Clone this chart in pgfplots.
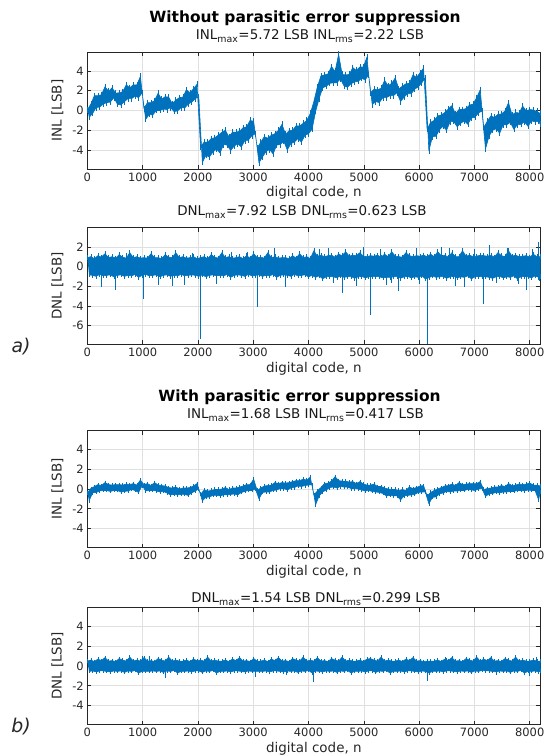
\documentclass[border=0pt]{standalone}
\usepackage{fontspec}
\setmainfont{DejaVu Sans}
\usepackage{pgfplots}
\usepackage{pgfplotstable}
\pgfplotsset{compat=1.18}
\definecolor{mblue}{HTML}{0072BD}
\definecolor{axgray}{HTML}{262626}

% outline of each noisy band: upper edge left to right, then lower edge right to left
\pgfplotstableread{
x ia da ib db
0 0.05 0.9 -0.4 0.5
64 0.65 1.0 0.05 0.6
128 1.5 0.8 0.25 0.45
192 1.5 1.1 0.45 0.7
256 1.6 0.95 0.35 0.55
320 2.4 1.3 0.65 0.85
384 1.95 0.9 0.45 0.5
448 2.3 1.0 0.4 0.55
512 1.75 0.85 0.45 0.45
576 1.8 1.2 0.45 0.75
640 1.9 0.95 0.4 0.6
704 2.6 0.85 0.5 0.5
768 2.3 1.4 0.45 0.9
832 2.6 0.9 0.55 0.5
896 2.6 1.0 0.4 0.6
960 3.45 0.85 0.9 0.5
1024 0.2 0.9 0.45 0.85
1088 0.8 0.85 0.55 0.5
1152 0.8 1.3 0.35 0.55
1216 1.0 0.9 0.65 0.45
1280 1.75 0.9 0.4 0.75
1344 1.15 0.8 0.35 0.6
1408 1.4 1.2 0.3 0.5
1472 1.35 0.95 0.15 0.9
1536 0.7 0.9 0.1 0.5
1600 1.05 1.4 0.2 0.6
1664 1.3 0.9 0.0 0.5
1728 1.35 1.0 0.1 0.5
1792 2.1 0.85 0.1 0.6
1856 1.8 0.9 0.15 0.45
1920 2.2 1.0 0.3 0.7
1984 2.65 0.8 0.55 0.55
2048 -3.7 0.9 -0.55 0.6
2112 -3.2 1.0 -0.1 0.5
2176 -3.2 0.8 -0.2 0.9
2240 -2.85 1.2 -0.15 0.5
2304 -2.75 0.95 -0.05 0.6
2368 -2.5 0.85 -0.05 0.5
2432 -2.2 1.4 0.0 0.5
2496 -2.0 0.9 0.15 0.6
2560 -2.65 1.0 -0.05 0.45
2624 -2.2 0.85 0.1 0.7
2688 -2.2 0.9 0.1 0.55
2752 -2.1 1.0 0.2 0.85
2816 -1.75 0.8 0.3 0.5
2880 -1.65 1.1 0.45 0.55
2944 -1.0 0.85 0.45 0.45
3008 -1.1 1.3 1.0 0.75
3072 -3.8 0.9 -0.15 0.5
3136 -3.2 0.95 0.1 0.5
3200 -2.65 0.85 0.3 0.6
3264 -2.8 1.4 0.35 0.45
3328 -2.5 0.9 0.4 0.7
3392 -2.35 1.0 0.65 0.55
3456 -2.0 0.85 0.55 0.85
3520 -1.4 0.9 0.65 0.5
3584 -2.4 0.9 0.6 0.55
3648 -2.05 0.8 0.65 0.45
3712 -2.0 1.1 0.75 0.75
3776 -1.55 0.85 0.85 0.6
3840 -1.55 1.3 0.85 0.5
3904 -1.3 0.9 1.0 0.9
3968 -1.0 1.0 0.9 0.5
4032 -0.3 0.8 1.2 0.6
4096 0.9 1.6 -0.6 0.5
4160 2.4 1.05 -0.2 0.85
4224 3.5 1.15 0.15 0.5
4288 3.6 1.0 0.55 0.55
4352 3.7 1.1 0.6 0.45
4416 4.45 1.15 0.8 0.75
4480 3.95 0.95 1.25 0.6
4544 5.7 1.25 0.85 0.5
4608 3.65 1.1 0.8 0.9
4672 3.6 1.5 0.8 0.5
4736 3.65 1.05 0.7 0.6
4800 4.35 1.15 0.75 0.5
4864 4.05 1.1 0.55 0.5
4928 4.4 1.4 0.75 0.6
4992 4.4 1.05 0.5 0.45
5056 5.4 1.0 0.4 0.7
5120 1.8 1.1 0.4 0.75
5184 2.15 1.05 0.5 0.6
5248 2.1 1.15 0.25 0.5
5312 2.25 0.95 0.25 0.9
5376 3.05 1.25 0.1 0.5
5440 2.5 1.0 0.0 0.6
5504 2.75 1.5 -0.05 0.5
5568 3.3 1.05 -0.05 0.5
5632 2.2 1.0 -0.15 0.6
5696 2.45 0.95 -0.05 0.45
5760 2.7 1.4 -0.15 0.7
5824 2.75 1.1 0.2 0.55
5888 3.6 1.0 0.05 0.85
5952 3.35 1.1 0.15 0.5
6016 3.8 1.05 0.3 0.55
6080 4.3 1.15 0.35 0.45
6144 -1.9 1.0 -0.7 0.5
6208 -1.2 1.25 -0.35 0.5
6272 -1.0 1.0 -0.15 0.5
6336 -0.55 1.5 0.0 0.6
6400 -0.45 1.1 0.15 0.45
6464 -0.2 1.15 0.3 0.7
6528 0.15 0.95 0.35 0.55
6592 0.5 1.4 0.5 0.85
6656 -0.35 1.0 0.35 0.5
6720 0.1 1.0 0.65 0.55
6784 0.1 1.6 0.45 0.45
6848 0.2 1.05 0.5 0.75
6912 0.55 1.15 0.55 0.6
6976 0.65 1.0 0.55 0.5
7040 1.3 1.05 0.55 0.9
7104 2.1 1.15 0.75 0.5
7168 -1.7 1.1 -0.05 0.7
7232 -1.1 1.05 0.05 0.55
7296 -0.55 1.15 0.1 0.85
7360 -0.7 0.95 0.2 0.5
7424 -0.4 1.4 0.2 0.55
7488 -0.35 1.1 0.35 0.45
7552 -0.05 1.0 0.25 0.75
7616 0.8 1.6 0.55 0.6
7680 -0.45 1.05 0.35 0.5
7744 -0.2 1.15 0.4 0.9
7808 -0.25 1.0 0.5 0.5
7872 0.45 1.05 0.45 0.6
7936 -0.05 1.1 0.5 0.5
8000 0.1 0.95 0.6 0.5
8064 0.05 1.25 0.4 0.6
8128 -0.1 1.0 0.4 0.5
8191 -0.3 1.0 0.3 0.5
8191 -1.4 -1.0 -0.3 -0.5
8160 -1.1 -1.1 -1.1 -0.6
8096 -1.15 -0.95 -0.15 -0.5
8032 -1.05 -1.15 -0.15 -0.55
7968 -1.6 -1.05 -0.1 -0.55
7904 -1.15 -1.0 -0.2 -0.7
7840 -1.4 -1.05 -0.15 -0.45
7776 -1.45 -1.25 -0.15 -0.55
7712 -1.9 -0.95 -0.25 -0.5
7648 -1.2 -1.1 -0.25 -0.65
7584 -1.45 -1.05 -0.3 -0.5
7520 -1.45 -1.15 -0.3 -0.55
7456 -2.3 -1.0 -0.4 -0.5
7392 -1.85 -1.05 -0.35 -0.6
7328 -2.0 -1.2 -0.45 -0.55
7264 -2.6 -1.1 -0.5 -0.5
7200 -3.9 -1.05 -0.75 -0.5
7136 -0.05 -1.05 0.05 -0.45
7072 -0.25 -1.0 0.0 -0.55
7008 -0.7 -1.05 -0.15 -0.5
6944 -0.75 -1.25 -0.1 -0.65
6880 -1.4 -0.95 -0.05 -0.5
6816 -1.05 -1.1 -0.15 -0.55
6752 -1.3 -1.05 -0.15 -0.5
6688 -1.65 -1.15 -0.2 -0.6
6624 -1.1 -1.0 -0.2 -0.55
6560 -1.15 -1.05 -0.3 -0.5
6496 -2.0 -1.2 -0.25 -0.5
6432 -1.6 -1.0 -0.4 -0.6
6368 -1.95 -1.05 -0.5 -0.5
6304 -2.6 -1.1 -0.8 -0.55
6240 -2.65 -0.95 -0.85 -0.55
6176 -4.1 -1.15 -1.5 -0.7
6112 3.3 -1.25 -0.3 -0.55
6048 2.8 -0.95 -0.3 -0.5
5984 2.4 -1.1 -0.35 -0.6
5920 2.15 -1.05 -0.55 -0.55
5856 1.7 -1.15 -0.6 -0.5
5792 1.7 -1.0 -0.65 -0.5
5728 1.35 -1.05 -0.7 -0.6
5664 0.9 -1.2 -1.1 -0.5
5600 1.8 -1.0 -0.7 -0.55
5536 1.5 -1.05 -0.7 -0.55
5472 1.5 -1.1 -0.65 -0.7
5408 1.3 -1.1 -0.7 -0.45
5344 1.3 -1.15 -0.45 -0.55
5280 0.8 -1.05 -0.35 -0.5
5216 0.9 -1.0 -0.3 -0.65
5152 0.6 -1.05 -0.25 -0.5
5088 3.6 -1.05 -0.15 -0.5
5024 3.1 -1.15 -0.2 -0.6
4960 3.25 -1.0 -0.1 -0.5
4896 2.95 -1.05 0.0 -0.55
4832 2.9 -1.2 0.05 -0.55
4768 2.7 -1.0 0.05 -0.7
4704 2.35 -1.05 0.2 -0.45
4640 2.5 -1.1 0.2 -0.55
4576 3.2 -0.95 0.25 -0.5
4512 2.8 -1.15 0.1 -0.65
4448 2.8 -1.05 0.2 -0.5
4384 2.75 -1.0 0.15 -0.55
4320 2.45 -1.05 -0.1 -0.5
4256 2.3 -1.25 -0.3 -0.6
4192 1.2 -0.95 -0.7 -0.55
4128 -0.1 -1.1 -1.6 -0.5
4064 -1.9 -0.9 0.45 -0.7
4000 -2.35 -1.05 0.4 -0.45
3936 -2.5 -0.85 0.35 -0.55
3872 -3.2 -0.9 0.25 -0.5
3808 -2.85 -0.95 0.3 -0.65
3744 -3.2 -0.8 0.15 -0.5
3680 -3.35 -1.0 0.1 -0.55
3616 -4.0 -0.9 -0.1 -0.5
3552 -3.1 -0.85 0.05 -0.6
3488 -3.45 -0.9 0.05 -0.55
3424 -3.5 -1.1 -0.1 -0.5
3360 -4.4 -0.8 -0.15 -0.5
3296 -3.95 -0.95 -0.3 -0.6
3232 -4.15 -0.9 -0.3 -0.5
3168 -4.7 -1.0 -0.35 -0.55
3104 -5.3 -0.85 -1.0 -0.55
3040 -2.35 -0.9 0.0 -0.55
2976 -2.55 -0.95 -0.15 -0.55
2912 -3.0 -0.8 -0.15 -0.5
2848 -3.05 -1.0 -0.25 -0.6
2784 -3.7 -0.9 -0.35 -0.55
2720 -3.35 -0.85 -0.6 -0.5
2656 -3.6 -0.9 -0.5 -0.5
2592 -4.05 -1.1 -0.55 -0.6
2528 -3.5 -0.8 -0.6 -0.5
2464 -3.45 -0.95 -0.6 -0.55
2400 -4.3 -0.9 -0.7 -0.55
2336 -3.9 -0.95 -0.65 -0.7
2272 -4.2 -0.85 -0.65 -0.45
2208 -4.7 -0.9 -0.8 -0.55
2144 -4.55 -1.05 -0.85 -0.5
2080 -5.25 -0.85 -1.2 -0.65
2016 1.4 -1.0 0.0 -0.5
1952 1.2 -0.9 -0.2 -0.5
1888 0.85 -0.85 -0.4 -0.6
1824 0.65 -0.9 -0.65 -0.5
1760 0.25 -0.95 -0.55 -0.55
1696 0.3 -0.8 -0.55 -0.55
1632 -0.05 -0.95 -0.6 -0.7
1568 -0.1 -0.9 -0.55 -0.45
1504 0.3 -1.0 -0.6 -0.55
1440 0.1 -0.85 -0.4 -0.5
1376 0.15 -0.9 -0.25 -0.65
1312 0.0 -1.05 -0.3 -0.5
1248 0.0 -0.85 -0.2 -0.55
1184 -0.45 -0.9 -0.15 -0.5
1120 -0.4 -0.95 -0.15 -0.55
1056 -0.9 -0.8 -0.2 -0.55
992 1.8 -0.9 0.35 -0.55
928 1.3 -1.1 -0.35 -0.7
864 1.45 -0.8 -0.15 -0.45
800 1.2 -0.95 -0.05 -0.55
736 1.2 -0.9 -0.2 -0.5
672 0.9 -1.0 -0.25 -0.65
608 0.55 -0.85 -0.3 -0.5
544 0.65 -0.9 -0.15 -0.55
480 1.3 -1.05 -0.15 -0.5
416 0.85 -0.85 -0.25 -0.6
352 0.8 -0.9 -0.15 -0.55
288 0.65 -0.95 -0.15 -0.5
224 0.35 -0.8 -0.2 -0.5
160 0.3 -1.0 -0.35 -0.6
96 -0.3 -0.9 -0.4 -0.5
32 -0.7 -0.85 -1.2 -0.55
}\band

% isolated DNL spikes
\pgfplotstableread{
x y
256 -2.1
512 -2.35
700 1.4
1024 -3.3
1280 -1.85
1536 -2.0
1760 -1.9
1900 1.35
2048 -7.4
2336 -1.8
2600 1.5
2900 1.45
3072 -4.1
3392 1.9
3584 -2.1
4200 1.8
4352 1.9
4450 -1.7
4608 -2.7
4864 -2.0
4992 2.0
5120 -4.9
5300 1.8
5408 -1.9
5500 -1.7
5632 -2.5
5952 1.9
6000 -1.8
6144 -7.92
6400 2.0
6550 1.9
6656 -2.0
6816 -2.1
7000 1.8
7168 -3.8
7264 2.2
7400 -1.7
7600 1.9
7800 -1.8
7936 -2.35
8050 1.8
8150 2.45
8169 -1.5
}\spka

\pgfplotstableread{
x y
992 1.0
1120 1.05
1408 -1.2
2500 0.85
3040 -1.1
3600 -0.9
4096 -1.6
5200 0.85
6144 -1.5
6500 0.85
7400 -0.9
8000 -1.0
8128 0.95
}\spkb

\pgfplotsset{base/.style={
  anchor=north west, scale only axis, width=453bp, height=117bp,
  xmin=0, xmax=8191, xtick={0,1000,...,8000},
  grid=major, major grid style={draw=black!12, line width=0.6bp},
  axis line style={draw=axgray, line width=0.6bp},
  every tick/.style={draw=axgray, line width=0.6bp},
  tick align=inside, major tick length=4bp,
  tick label style={font=\fontsize{11.5}{12}\selectfont, text=axgray},
  label style={font=\fontsize{13.5}{14}\selectfont, text=axgray},
  xlabel={digital code, n},
  xlabel style={at={(axis description cs:0.5,-0.205)}, anchor=center},
  ylabel style={at={(axis description cs:-0.066,0.5)}, anchor=center},
  /pgf/number format/assume math mode=true,
  /pgf/number format/1000 sep={},
  scaled ticks=false,
}}
\tikzset{bandst/.style={fill=mblue, draw=mblue, line width=0.6bp, line join=round}}
\pgfplotsset{hairs/.style={only marks, mark=|, mark size=#1, mark options={draw=mblue, line width=0.6bp}}}

\begin{document}
\begin{tikzpicture}
\path[use as bounding box] (0,0) rectangle (548bp,-756bp);

\begin{axis}[base, at={(87.3bp,-52bp)}, ymin=-5.92, ymax=5.92, ytick={-4,-2,0,2,4}, ylabel={INL [LSB]}]
\addplot[bandst] table[x=x, y=ia] {\band};
\addplot[hairs=3bp] table[x=x, y=ia] {\band};
\end{axis}

\begin{axis}[base, at={(87.3bp,-227.5bp)}, ymin=-7.92, ymax=3.96, ytick={-6,-4,-2,0,2}, ylabel={DNL [LSB]}]
\addplot[bandst] table[x=x, y=da] {\band};
\addplot[hairs=2.6bp] table[x=x, y=da] {\band};
\addplot[ycomb, mblue, line width=0.9bp] table[x=x, y=y] {\spka};
\end{axis}

\begin{axis}[base, at={(87.3bp,-430.5bp)}, ymin=-5.92, ymax=5.92, ytick={-4,-2,0,2,4}, ylabel={INL [LSB]}]
\addplot[bandst] table[x=x, y=ib] {\band};
\addplot[hairs=2bp] table[x=x, y=ib] {\band};
\end{axis}

\begin{axis}[base, at={(87.3bp,-607.5bp)}, ymin=-5.92, ymax=5.92, ytick={-4,-2,0,2,4}, ylabel={DNL [LSB]}]
\addplot[bandst] table[x=x, y=db] {\band};
\addplot[hairs=2bp] table[x=x, y=db] {\band};
\addplot[ycomb, mblue, line width=0.9bp] table[x=x, y=y] {\spkb};
\end{axis}

\node[font=\bfseries\fontsize{15.5}{16}\selectfont] at (305bp,-18bp) {Without parasitic error suppression};
\node[font=\fontsize{13.5}{14}\selectfont, text=black!90] at (310bp,-36bp) {INL\textsubscript{max}=5.72 LSB INL\textsubscript{rms}=2.22 LSB};
\node[font=\fontsize{13.5}{14}\selectfont, text=black!90] at (302bp,-212bp) {DNL\textsubscript{max}=7.92 LSB DNL\textsubscript{rms}=0.623 LSB};
\node[font=\bfseries\fontsize{15.5}{16}\selectfont] at (299.5bp,-397bp) {With parasitic error suppression};
\node[font=\fontsize{13.5}{14}\selectfont, text=black!90] at (305.5bp,-415bp) {INL\textsubscript{max}=1.68 LSB INL\textsubscript{rms}=0.417 LSB};
\node[font=\fontsize{13.5}{14}\selectfont, text=black!90] at (316bp,-599bp) {DNL\textsubscript{max}=1.54 LSB DNL\textsubscript{rms}=0.299 LSB};
\node[font=\itshape\fontsize{19}{20}\selectfont, text=axgray] at (21bp,-347bp) {a)};
\node[font=\itshape\fontsize{19}{20}\selectfont, text=axgray] at (21bp,-727bp) {b)};
\end{tikzpicture}
\end{document}
